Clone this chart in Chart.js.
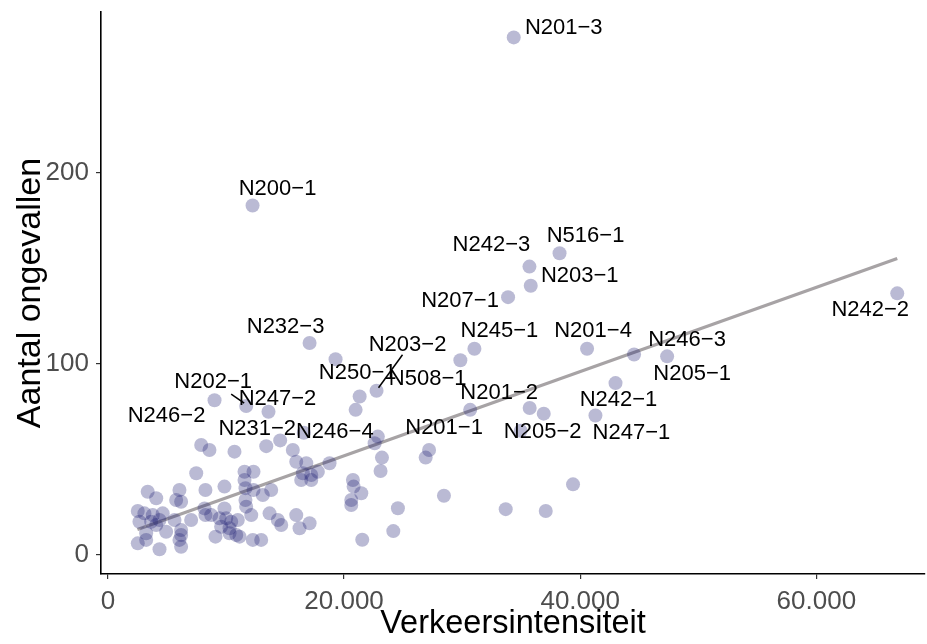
<!DOCTYPE html>
<html>
<head>
<meta charset="utf-8">
<script src="https://cdn.jsdelivr.net/npm/chart.js@4/dist/chart.umd.min.js"></script>
<style>
  body { margin: 0; background: #fff; }
  #wrap { width: 927px; height: 644px; }
</style>
</head>
<body>
<div id="wrap"><canvas id="chart" width="927" height="644"></canvas></div>
<script>
// road sections: traffic intensity vs number of accidents
const pointName = [
  "N201−3", "N200−1", "N516−1", "N242−3", "N203−1", "N207−1", "N242−2", "N232−3",
  "N245−1", "N201−4", "N246−3", "N205−1", "N203−2", "N250−1", "N508−1", "N202−1",
  "N247−2", "N246−2", "N231−2", "N246−4", "N201−1", "N201−2", "N205−2", "N242−1", "N247−1"
];
const intensity = [
  34370, 12250, 38250, 35700, 35810, 33890, 66850, 17080,
  31040, 40580, 44560, 47360, 22750, 21320, 20980, 11710,
  13600, 9030, 13410, 16590, 27200, 30680, 34960, 42990, 41290,
  29850, 19280, 35720, 36910, 26910, 28460, 33690, 37080, 39390, 24560,
  24170, 21540, 22590, 22860, 23210, 23090, 20750, 20810, 21460, 20610,
  20610, 14590, 15660, 15950, 16800, 18770, 16510, 17220, 17780, 16370,
  17220, 12330, 13120, 13830, 12140, 13690, 14390, 14680, 15950, 17080,
  16230, 12330, 12980, 12270, 11570, 11570, 11650, 11650, 11710, 7900,
  8600, 10720, 7480, 2530, 3370, 4090, 2670, 3090, 3800, 4640,
  3660, 4090, 4370, 3240, 4930, 2530, 3240, 4370, 6060, 6200,
  5780, 5640, 6200, 6200, 6060, 6200, 7050, 8180, 8260, 8750,
  8260, 9110, 9870, 9870, 9450, 10020, 9590, 10440, 10300, 10300,
  11000, 10870, 11150
];
const accidents = [
  271, 183, 158, 151, 141, 135, 137, 111,
  108, 108, 105, 104, 86, 83, 76, 78,
  75, 81, 57, 64, 55, 76, 65, 90, 73,
  102, 102.5, 77, 74, 51, 31, 24, 23, 37, 24.5,
  12.5, 8, 58.5, 62, 51, 44, 39.3, 35.8, 32.3, 28.8,
  26.2, 60, 55, 48.8, 48, 48, 42.8, 41.9, 43.6, 39.3,
  39.3, 34, 31.4, 34, 20.9, 21.8, 18.3, 15.7, 20.9, 16.6,
  14, 43.6, 7.9, 7.9, 43.6, 39.3, 35, 28.8, 25.3, 57.6,
  55, 54.1, 42.8, 23, 33.1, 29.7, 17.4, 21.8, 20.9, 21.8,
  17.4, 15.7, 18.3, 11.4, 12.2, 6.1, 7.9, 3, 34, 27.9,
  28.8, 18.3, 13.1, 10.5, 7.9, 4.3, 18.3, 24.4, 20.9, 20.9,
  34, 9.6, 35.8, 24.4, 19.2, 19.2, 14.8, 17.4, 14, 11.4,
  18.3, 10.5, 9.6
];

// fitted line
const trendX = [2500, 66850];
const trendY = [13.3, 155.3];

const xTicks = [0, 20000, 40000, 60000];
const xTickLabels = ["0", "20.000", "40.000", "60.000"];
const yTicks = [0, 100, 200];
const yTickLabels = ["0", "100", "200"];

// label placement in pixels relative to its point (ggrepel look)
const labelOffsets = {
  "N201−3": { dx: 50, dy: -9 },
  "N200−1": { dx: 25, dy: -17 },
  "N516−1": { dx: 26, dy: -17 },
  "N242−3": { dx: -38, dy: -22 },
  "N203−1": { dx: 49, dy: -10 },
  "N207−1": { dx: -48, dy: 4 },
  "N242−2": { dx: -27, dy: 17 },
  "N232−3": { dx: -24, dy: -16 },
  "N245−1": { dx: 25, dy: -18 },
  "N201−4": { dx: 6, dy: -18 },
  "N246−3": { dx: 53, dy: -15 },
  "N205−1": { dx: 25, dy: 18 },
  "N203−2": { dx: 31, dy: -46, seg: [26, -36, 2, -3] },
  "N250−1": { dx: -2, dy: -24 },
  "N508−1": { dx: 72, dy: -31 },
  "N202−1": { dx: -33, dy: -24, seg: [-15, -12, -2, -3] },
  "N247−2": { dx: 9, dy: -13 },
  "N246−2": { dx: -48, dy: 16 },
  "N231−2": { dx: -9, dy: -17 },
  "N246−4": { dx: 31, dy: -1 },
  "N201−1": { dx: 15, dy: -22 },
  "N201−2": { dx: 29, dy: -17 },
  "N205−2": { dx: 22, dy: 1 },
  "N242−1": { dx: 3, dy: 17 },
  "N247−1": { dx: 36, dy: 17 }
};

const FONT = "'Liberation Sans', Arial, sans-serif";

const labelPlugin = {
  id: "roadLabels",
  afterDatasetsDraw(chart) {
    const { ctx, scales: { x, y } } = chart;
    ctx.save();
    ctx.font = "22px " + FONT;
    ctx.fillStyle = "#000";
    ctx.strokeStyle = "#000";
    ctx.lineWidth = 1.5;
    ctx.textAlign = "center";
    ctx.textBaseline = "middle";
    pointName.forEach((name, i) => {
      const off = labelOffsets[name];
      if (!off) return;
      const px = x.getPixelForValue(intensity[i]);
      const py = y.getPixelForValue(accidents[i]);
      if (off.seg) {
        ctx.beginPath();
        ctx.moveTo(px + off.seg[0], py + off.seg[1]);
        ctx.lineTo(px + off.seg[2], py + off.seg[3]);
        ctx.stroke();
      }
      ctx.fillText(name, px + off.dx, py + off.dy);
    });
    ctx.restore();
  }
};

const points = intensity.map((v, i) => ({ x: v, y: accidents[i] }));
const trend = trendX.map((v, i) => ({ x: v, y: trendY[i] }));

new Chart(document.getElementById("chart").getContext("2d"), {
  type: "scatter",
  data: {
    datasets: [
      {
        data: points,
        backgroundColor: "rgba(25,25,112,0.3)",
        borderWidth: 0,
        pointRadius: 7,
        pointHoverRadius: 7,
        order: 0
      },
      {
        type: "line",
        data: trend,
        borderColor: "#a7a3a5",
        borderWidth: 3.2,
        pointRadius: 0,
        fill: false,
        order: 1
      }
    ]
  },
  options: {
    responsive: false,
    animation: false,
    devicePixelRatio: 1,
    layout: { autoPadding: false, padding: { top: 12, right: 2, left: 0, bottom: 0 } },
    plugins: { legend: { display: false }, tooltip: { enabled: false } },
    scales: {
      x: {
        type: "linear",
        min: -585,
        max: 69200,
        afterFit: s => { s.height = 70; s.paddingLeft = 0; s.paddingRight = 0; },
        afterBuildTicks: s => { s.ticks = xTicks.map(v => ({ value: v })); },
        grid: { drawOnChartArea: false, drawTicks: true, tickLength: 5, color: "#333", lineWidth: 1.2 },
        border: { display: true, color: "#000", width: 1.6 },
        ticks: {
          padding: 7,
          color: "#4d4d4d",
          font: { family: FONT, size: 26 },
          maxRotation: 0,
          callback: v => xTickLabels[xTicks.indexOf(v)]
        },
        title: {
          display: true,
          text: "Verkeersintensiteit",
          color: "#000",
          font: { family: FONT, size: 32.5 },
          padding: { top: 0, bottom: 0 }
        }
      },
      y: {
        type: "linear",
        min: -9.95,
        max: 284.3,
        afterFit: s => { s.width = 101; s.paddingTop = 0; s.paddingBottom = 0; },
        afterBuildTicks: s => { s.ticks = yTicks.map(v => ({ value: v })); },
        grid: { drawOnChartArea: false, drawTicks: true, tickLength: 5, color: "#333", lineWidth: 1.2 },
        border: { display: true, color: "#000", width: 1.6 },
        ticks: {
          padding: 7,
          color: "#4d4d4d",
          font: { family: FONT, size: 26 },
          callback: v => yTickLabels[yTicks.indexOf(v)]
        },
        title: {
          display: true,
          text: "Aantal ongevallen",
          color: "#000",
          font: { family: FONT, size: 34 },
          padding: { top: 10, bottom: 0 }
        }
      }
    }
  },
  plugins: [labelPlugin]
});
</script>
</body>
</html>
